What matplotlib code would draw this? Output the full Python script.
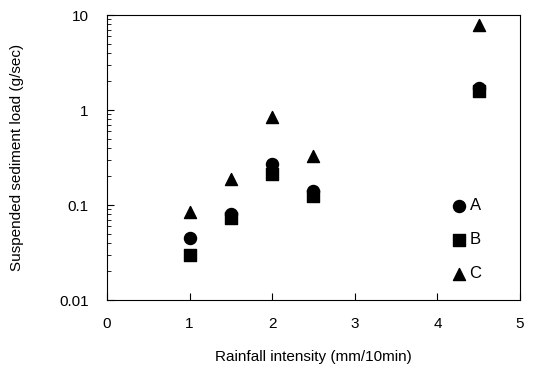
import matplotlib
matplotlib.use('Agg')
from matplotlib import pyplot as plt
from matplotlib.ticker import LogLocator, NullFormatter, FixedLocator, FixedFormatter

plt.rcParams['font.family'] = ['Liberation Sans', 'DejaVu Sans']

intensity = [1, 1.5, 2, 2.5, 4.5]  # mm/10min
load_a = [0.045, 0.08, 0.27, 0.14, 1.7]
load_b = [0.03, 0.073, 0.21, 0.125, 1.6]
load_c = [0.085, 0.19, 0.85, 0.33, 7.8]

fig = plt.figure(figsize=(5.4, 3.77), dpi=100)
ax = fig.add_axes([0.198, 0.204, 0.765, 0.756])

ax.scatter(intensity, load_a, marker='o', s=75, c='black', label='A', zorder=3)
ax.scatter(intensity, load_b, marker='s', s=65, c='black', label='B', zorder=3)
ax.scatter(intensity, load_c, marker='^', s=75, c='black', label='C', zorder=3)

ax.set_yscale('log')
ax.set_xlim(0, 5)
ax.set_ylim(0.01, 10)
ax.set_xticks([0, 1, 2, 3, 4, 5])
ax.yaxis.set_major_locator(FixedLocator([0.01, 0.1, 1, 10]))
ax.yaxis.set_major_formatter(FixedFormatter(['0.01', '0.1', '1', '10']))
ax.yaxis.set_minor_locator(LogLocator(base=10, subs=range(2, 10)))
ax.yaxis.set_minor_formatter(NullFormatter())
ax.tick_params(which='both', direction='in', labelsize=11, right=False, top=False)
ax.tick_params(axis='x', pad=12)
ax.tick_params(axis='y', pad=13)
ax.tick_params(which='major', length=5)
ax.tick_params(which='minor', length=3)

ax.set_xlabel('Rainfall intensity (mm/10min)', fontsize=11, labelpad=14)
ax.set_ylabel('Suspended sediment load (g/sec)', fontsize=11)
ax.yaxis.set_label_coords(-0.2, 0.5)

ax.legend(loc='upper left', frameon=False, handlelength=1.0, handletextpad=0.15,
          labelspacing=1.15, fontsize=12, borderpad=0, borderaxespad=0,
          bbox_to_anchor=(0.834, 0.475), bbox_transform=fig.transFigure)

fig.savefig('out.png', dpi=100)
